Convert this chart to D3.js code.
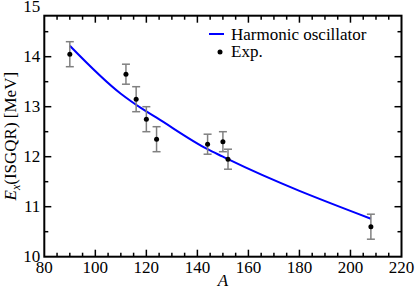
<!DOCTYPE html>
<html><head><meta charset="utf-8">
<script src="https://cdn.jsdelivr.net/npm/d3@7"></script>
<style>body{margin:0;background:#fff;} svg{display:block;} svg text{font-family:"Liberation Serif","Times New Roman",serif;}</style>
</head><body><div id="c"></div>
<script>
const expA = [90, 112, 116, 120, 124, 144, 150, 152, 208];
const expE = [14.05, 13.65, 13.15, 12.75, 12.35, 12.25, 12.3, 11.95, 10.6];
const expErr = [0.25, 0.2, 0.25, 0.25, 0.25, 0.2, 0.2, 0.2, 0.25];
const hoA = [90, 110, 114, 118, 124, 144, 150, 152, 208];
const hoE = [14.22, 13.26, 13.11, 12.97, 12.78, 12.15, 12.0, 11.95, 10.76];
const xTicks = [80, 100, 120, 140, 160, 180, 200, 220];
const yTicks = [10, 11, 12, 13, 14, 15];

const W = 415, H = 289;
const L = 44.3, R = 401.5, T = 15.7, B = 256.7;
const svg = d3.select("#c").append("svg").attr("width", W).attr("height", H);
const x = d3.scaleLinear().domain([80, 220]).range([L, R]);
const y = d3.scaleLinear().domain([10, 15]).range([B, B - 250]);

const g = svg.append("g").attr("stroke", "#000").attr("stroke-width", 1.5);
d3.range(80, 221, 5).forEach(v => {
  const major = v % 20 === 0, len = major ? 7 : 4;
  if (v > 80 && v < 220) {
    g.append("line").attr("x1", x(v)).attr("x2", x(v)).attr("y1", B).attr("y2", B - len);
    g.append("line").attr("x1", x(v)).attr("x2", x(v)).attr("y1", T).attr("y2", T + len);
  }
});
d3.range(10, 14.81, 0.5).forEach(v => {
  const major = Math.abs(v - Math.round(v)) < 1e-6, len = major ? 7 : 4;
  if (v > 10) {
    g.append("line").attr("y1", y(v)).attr("y2", y(v)).attr("x1", L).attr("x2", L + len);
    g.append("line").attr("y1", y(v)).attr("y2", y(v)).attr("x1", R).attr("x2", R - len);
  }
});
svg.append("rect").attr("x", L).attr("y", T).attr("width", R - L).attr("height", B - T)
  .attr("fill", "none").attr("stroke", "#000").attr("stroke-width", 2);

svg.selectAll(".xl").data(xTicks).enter().append("text")
  .attr("x", d => x(d)).attr("y", B + 16.5).attr("text-anchor", "middle")
  .attr("font-size", 17).text(d => d);
svg.selectAll(".yl").data(yTicks).enter().append("text")
  .attr("x", L - 4).attr("y", d => y(d) + 5.5).attr("text-anchor", "end")
  .attr("font-size", 17).text(d => d);

svg.append("text").attr("x", x(150)).attr("y", 286).attr("text-anchor", "middle")
  .attr("font-size", 17).attr("font-style", "italic").text("A");
const yl = svg.append("text")
  .attr("transform", `translate(16,${(T + B) / 2}) rotate(-90)`)
  .attr("text-anchor", "middle").attr("font-size", 17);
yl.append("tspan").attr("font-style", "italic").text("E");
yl.append("tspan").attr("font-style", "italic").attr("font-size", 12).attr("dy", 4).text("x");
yl.append("tspan").attr("dy", -4).text("(ISGQR) [MeV]");

const line = d3.line().curve(d3.curveMonotoneX).x(d => x(d[0])).y(d => y(d[1]));
svg.append("path").datum(hoA.map((a, i) => [a, hoE[i]]))
  .attr("d", line).attr("fill", "none").attr("stroke", "#0000ff").attr("stroke-width", 2);

const eg = svg.append("g");
expA.forEach((a, i) => {
  const cx = x(a), y0 = y(expE[i] - expErr[i]), y1 = y(expE[i] + expErr[i]);
  eg.append("line").attr("x1", cx).attr("x2", cx).attr("y1", y0).attr("y2", y1)
    .attr("stroke", "#808080").attr("stroke-width", 1.5);
  [y0, y1].forEach(yy => eg.append("line").attr("x1", cx - 4).attr("x2", cx + 4)
    .attr("y1", yy).attr("y2", yy).attr("stroke", "#808080").attr("stroke-width", 1.5));
  eg.append("circle").attr("cx", cx).attr("cy", y(expE[i])).attr("r", 2.5).attr("fill", "#000");
});

svg.append("line").attr("x1", 209).attr("x2", 224).attr("y1", 34).attr("y2", 34)
  .attr("stroke", "#0000ff").attr("stroke-width", 2);
svg.append("text").attr("x", 231).attr("y", 39.5).attr("font-size", 17).text("Harmonic oscillator");
svg.append("circle").attr("cx", 220).attr("cy", 52).attr("r", 2.5).attr("fill", "#000");
svg.append("text").attr("x", 231).attr("y", 56.5).attr("font-size", 17).text("Exp.");
</script></body></html>
